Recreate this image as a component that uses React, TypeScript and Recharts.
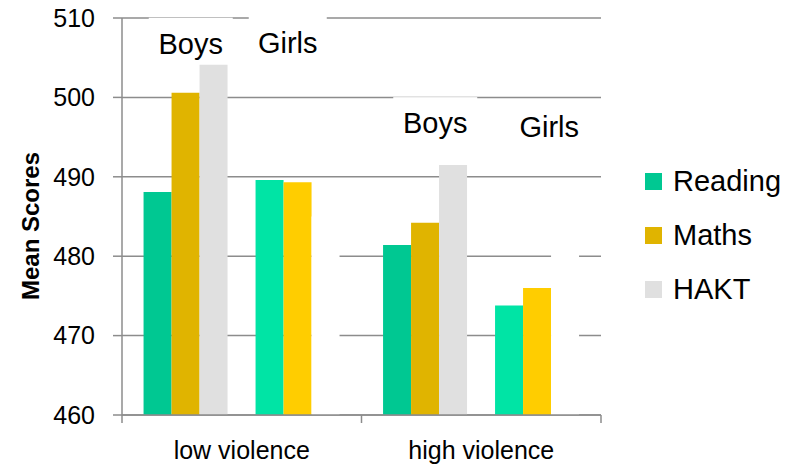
import { BarChart, Bar, XAxis, YAxis, CartesianGrid, Legend, ReferenceDot } from 'recharts'

const categories = ['low violence', 'high violence']
const boysReading = [488.1, 481.4]
const boysMaths = [500.6, 484.2]
const boysHakt = [504.1, 491.5]
const girlsReading = [489.6, 473.8]
const girlsMaths = [489.3, 476.0]
const girlsHakt = [485, 485]
const yTicks = [460, 470, 480, 490, 500, 510]
const legendNames = ['Reading', 'Maths', 'HAKT']

// "Boys" / "Girls" captions sitting above each group (value = baseline in score units)
const groupNotes = [
  { text: 'Boys', category: 'low violence', value: 505.5, dx: -51, w: 84 },
  { text: 'Girls', category: 'low violence', value: 505.6, dx: 46, w: 78 },
  { text: 'Boys', category: 'high violence', value: 495.5, dx: -46, w: 84 },
  { text: 'Girls', category: 'high violence', value: 495.0, dx: 68, w: 80 },
]

const data = categories.map((category, i) => ({
  category,
  boysReading: boysReading[i],
  boysMaths: boysMaths[i],
  boysHakt: boysHakt[i],
  spacer: null,
  girlsReading: girlsReading[i],
  girlsMaths: girlsMaths[i],
  girlsHakt: girlsHakt[i],
}))

const W = 798
const H = 466
const AXIS_W = 122
const RIGHT = 197
const PLOT_W = W - AXIS_W - RIGHT
const GRID = '#8c8c8c'
const FONT = '"Liberation Sans", Arial, sans-serif'

function CategoryTick(props: any) {
  const { x, y, payload, index } = props
  const bw = PLOT_W / categories.length
  const edges = [x - bw / 2]
  if (index === categories.length - 1) edges.push(x + bw / 2)
  return (
    <g>
      {edges.map((ex) => (
        <line key={ex} x1={ex} x2={ex} y1={y} y2={y + 8} stroke={GRID} strokeWidth={1.5} />
      ))}
      <text x={x} y={y + 44} textAnchor="middle" fontSize={25} fill="#000">
        {payload.value}
      </text>
    </g>
  )
}

function GroupNote({ cx, cy, note }: any) {
  const x = cx + note.dx
  return (
    <g>
      <rect x={x - note.w / 2} y={cy - 36} width={note.w} height={44} fill="#fff" />
      <text x={x} y={cy} textAnchor="middle" fontSize={29} fill="#000">
        {note.text}
      </text>
    </g>
  )
}

function SquareLegend({ payload }: any) {
  const items = legendNames
    .map((name) => (payload || []).find((p: any) => p.value === name))
    .filter(Boolean)
  return (
    <div>
      {items.map((item: any) => (
        <div
          key={item.value}
          style={{ display: 'flex', alignItems: 'center', height: 53.8, fontSize: 29, color: '#000' }}
        >
          <span style={{ width: 17, height: 17, background: item.color, marginRight: 11 }} />
          <span>{item.value}</span>
        </div>
      ))}
    </div>
  )
}

export default function App() {
  return (
    <div style={{ position: 'absolute', left: 0, top: 0, width: W, height: H, background: '#fff', fontFamily: FONT }}>
      <BarChart
        width={W}
        height={H}
        data={data}
        margin={{ top: 18, right: RIGHT, bottom: 0, left: 0 }}
        barCategoryGap="9%"
        barGap={0}
      >
        <CartesianGrid vertical={false} stroke={GRID} strokeWidth={1.5} />
        <XAxis
          dataKey="category"
          height={51}
          tick={<CategoryTick />}
          tickLine={false}
          tickSize={0}
          tickMargin={0}
          axisLine={{ stroke: GRID, strokeWidth: 1.5 }}
        />
        <YAxis
          width={AXIS_W}
          domain={[460, 510]}
          ticks={yTicks}
          interval={0}
          allowDataOverflow
          tickSize={9}
          tickMargin={18}
          tick={{ fontSize: 25, fill: '#000' }}
          axisLine={{ stroke: GRID, strokeWidth: 1.5 }}
          tickLine={{ stroke: GRID, strokeWidth: 1.5 }}
          label={{
            content: () => (
              <text
                x={39}
                y={226}
                transform="rotate(-90, 39, 226)"
                textAnchor="middle"
                fontSize={24}
                fontWeight="bold"
                fill="#000"
              >
                Mean Scores
              </text>
            ),
          }}
        />
        <Legend
          layout="vertical"
          align="center"
          verticalAlign="middle"
          content={<SquareLegend />}
          wrapperStyle={{ left: 645, top: 155, width: 'auto' }}
        />
        <Bar dataKey="boysReading" name="Reading" fill="#00C892" isAnimationActive={false} />
        <Bar dataKey="boysMaths" name="Maths" fill="#E0B400" isAnimationActive={false} />
        <Bar dataKey="boysHakt" name="HAKT" fill="#E0E0E0" isAnimationActive={false} />
        <Bar dataKey="spacer" legendType="none" fill="none" isAnimationActive={false} />
        <Bar dataKey="girlsReading" legendType="none" fill="#00E4A5" isAnimationActive={false} />
        <Bar dataKey="girlsMaths" legendType="none" fill="#FFCD00" isAnimationActive={false} />
        <Bar dataKey="girlsHakt" legendType="none" fill="#FFFFFF" isAnimationActive={false} />
        {groupNotes.map((n) => (
          <ReferenceDot
            key={n.category + n.text}
            x={n.category}
            y={n.value}
            r={0}
            ifOverflow="visible"
            shape={(p: any) => <GroupNote {...p} note={n} />}
          />
        ))}
      </BarChart>
    </div>
  )
}
